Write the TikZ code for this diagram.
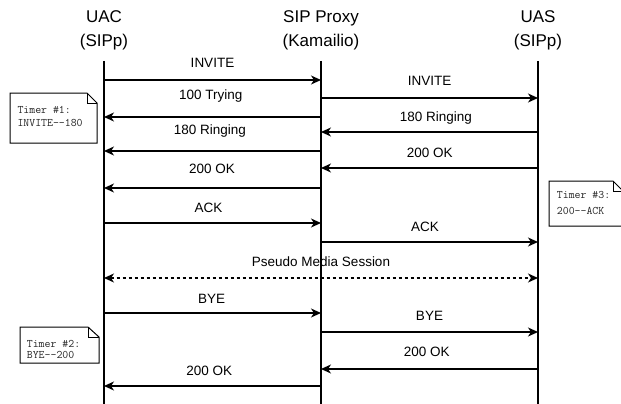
\documentclass[tikz,border=0pt]{standalone}
\usepackage{fontspec}
\setmainfont{Liberation Sans}
\usetikzlibrary{arrows.meta}
\begin{document}
\begin{tikzpicture}[x=1pt,y=-1pt,
  head/.style={font=\fontsize{17}{24}\selectfont, align=center, inner sep=0pt},
  lbl/.style={font=\fontsize{13.5}{16}\selectfont, anchor=mid, inner sep=0pt},
  life/.style={line width=1.4pt},
  msg/.style={line width=1.4pt, -{Stealth[length=10pt,width=9pt,inset=3pt]}},
  media/.style={line width=1.4pt, dash pattern=on 3pt off 3pt,
    {Stealth[length=10pt,width=9pt,inset=3pt]}-{Stealth[length=10pt,width=9pt,inset=3pt]}},
  note/.style={draw, fill=white, line width=1pt, line join=miter},
  fold/.style={line width=1pt},
  notetxt/.style={font=\ttfamily\fontsize{11.5}{13}\selectfont, text=black!85, anchor=base west, inner sep=0pt}
]
\useasboundingbox (0,0) rectangle (621,404);
\clip (0,0) rectangle (621,404);

% participants
\node[head] (uac)   at (104,30) {UAC\\(SIPp)};
\node[head] (proxy) at (321,30) {SIP Proxy\\(Kamailio)};
\node[head] (uas)   at (538,30) {UAS\\(SIPp)};

% lifelines
\coordinate (uacT)   at (104,61);  \coordinate (uacB)   at (104,404);
\coordinate (proxyT) at (321,61);  \coordinate (proxyB) at (321,404);
\coordinate (uasT)   at (538,61);  \coordinate (uasB)   at (538,404);
\draw[life] (uacT) -- (uacB);
\draw[life] (proxyT) -- (proxyB);
\draw[life] (uasT) -- (uasB);

% call setup
\draw[msg] (uacT |- 0,80) -- (proxyT |- 0,80);
\node[lbl] (m1) at (212.5,65) {INVITE};
\draw[msg] (proxyT |- 0,98) -- (uasT |- 0,98);
\node[lbl] (m2) at (429.5,83) {INVITE};
\draw[msg] (proxyT |- 0,117) -- (uacT |- 0,117);
\node[lbl] (m3) at (210.7,97) {100 Trying};
\draw[msg] (uasT |- 0,132) -- (proxyT |- 0,132);
\node[lbl] (m4) at (436,119) {180 Ringing};
\draw[msg] (proxyT |- 0,151) -- (uacT |- 0,151);
\node[lbl] (m5) at (210,132) {180 Ringing};
\draw[msg] (uasT |- 0,168) -- (proxyT |- 0,168);
\node[lbl] (m6) at (429.7,155) {200 OK};
\draw[msg] (proxyT |- 0,188) -- (uacT |- 0,188);
\node[lbl] (m7) at (212,171) {200 OK};
\draw[msg] (uacT |- 0,223) -- (proxyT |- 0,223);
\node[lbl] (m8) at (208.5,210) {ACK};
\draw[msg] (proxyT |- 0,242) -- (uasT |- 0,242);
\node[lbl] (m9) at (425,229) {ACK};

% media
\draw[media] (uacT |- 0,278) -- (uasT |- 0,278);
\node[lbl] (m10) at (321,264) {Pseudo Media Session};

% teardown
\draw[msg] (uacT |- 0,313) -- (proxyT |- 0,313);
\node[lbl] (m11) at (211.7,301) {BYE};
\draw[msg] (proxyT |- 0,332) -- (uasT |- 0,332);
\node[lbl] (m12) at (429.5,318) {BYE};
\draw[msg] (uasT |- 0,369) -- (proxyT |- 0,369);
\node[lbl] (m13) at (426.7,354) {200 OK};
\draw[msg] (proxyT |- 0,386) -- (uacT |- 0,386);
\node[lbl] (m14) at (209.3,373) {200 OK};

% timer notes
\draw[note] (10,93) -- (87,93) -- (97,103) -- (97,143) -- (10,143) -- cycle;
\draw[fold] (87,93) -- (87,103) -- (97,103);
\node[notetxt] (t1a) at (17.3,113.5) {Timer \#1:};
\node[notetxt] (t1b) at (17.3,126) {INVITE--180};

\draw[note] (20,327) -- (88,327) -- (99,337) -- (99,363) -- (20,363) -- cycle;
\draw[fold] (88,327) -- (88,337) -- (99,337);
\node[notetxt] (t2a) at (26.7,347) {Timer \#2:};
\node[notetxt] (t2b) at (26.7,358.5) {BYE--200};

\draw[note] (549,181) -- (613,181) -- (623,191) -- (623,226) -- (549,226) -- cycle;
\draw[fold] (613,181) -- (613,191) -- (623,191);
\node[notetxt] (t3a) at (556.7,198) {Timer \#3:};
\node[notetxt] (t3b) at (556.7,214.7) {200--ACK};
\end{tikzpicture}
\end{document}
